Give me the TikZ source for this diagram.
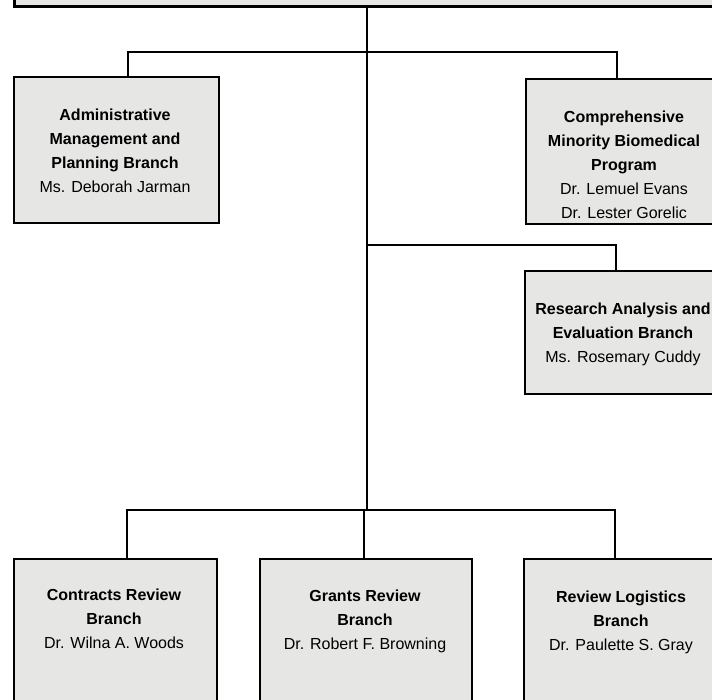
\documentclass[tikz,border=0pt]{standalone}
\usepackage{fontspec}
\setmainfont{Liberation Sans}
\definecolor{boxfill}{RGB}{230,230,228}
\begin{document}
\begin{tikzpicture}[x=1pt,y=-1pt,
  box/.style={draw=black,line width=1.8pt,fill=boxfill,inner sep=0pt},
  txt/.style={align=center,font=\fontsize{16}{24}\selectfont,inner sep=0pt},
  conn/.style={draw=black,line width=1.6pt}]
\useasboundingbox (0,0) rectangle (712,700);
\clip (0,0) rectangle (712,700);
\fill[white] (0,0) rectangle (712,700);
% boxes (pixel coordinates, y downward)
\node[box,anchor=north west,minimum width=720pt,minimum height=40pt,line width=2.6pt] (top) at (13,-35) {};
\node[box,anchor=north west,minimum width=205pt,minimum height=146pt] (admin) at (13,76) {};
\node[box,anchor=north west,minimum width=200pt,minimum height=145pt] (comp) at (525,78) {};
\node[box,anchor=north west,minimum width=200pt,minimum height=123pt] (res) at (524,270) {};
\node[box,anchor=north west,minimum width=203pt,minimum height=160pt] (contr) at (13,558) {};
\node[box,anchor=north west,minimum width=212pt,minimum height=160pt] (grants) at (259,558) {};
\node[box,anchor=north west,minimum width=200pt,minimum height=160pt] (logi) at (523,558) {};
% texts
\node[txt] (admint) at (115,151) {\textbf{Administrative}\\\textbf{Management and}\\\textbf{Planning Branch}\\Ms. Deborah Jarman};
\node[txt] (compt) at (624,165) {\textbf{Comprehensive}\\\textbf{Minority Biomedical}\\\textbf{Program}\\Dr. Lemuel Evans\\Dr. Lester Gorelic};
\node[txt] (rest) at (623,334) {\textbf{Research Analysis and}\\\textbf{Evaluation Branch}\\Ms. Rosemary Cuddy};
\node[txt] (contrt) at (114,619) {\textbf{Contracts Review}\\\textbf{Branch}\\Dr. Wilna A. Woods};
\node[txt] (grantst) at (365,621) {\textbf{Grants Review}\\\textbf{Branch}\\Dr. Robert F. Browning};
\node[txt] (logit) at (621,622) {\textbf{Review Logistics}\\\textbf{Branch}\\Dr. Paulette S. Gray};
% junctions
\coordinate (j1) at (367,52);
\coordinate (j2) at (367,245);
\coordinate (j3) at (367,510);
\coordinate (da) at (128,52);
\coordinate (dc) at (617,52);
\coordinate (dr) at (616,245);
\coordinate (db1) at (127,510);
\coordinate (db2) at (364,510);
\coordinate (db3) at (615,510);
% connectors
\draw[conn] (top.south -| j1) -- (j3);
\draw[conn] (da |- admin.north) -- (da) -- (dc) -- (dc |- comp.north);
\draw[conn] (j2) -- (dr) -- (dr |- res.north);
\draw[conn] (db1 |- contr.north) -- (db1) -- (db3) -- (db3 |- logi.north);
\draw[conn] (db2) -- (db2 |- grants.north);
\end{tikzpicture}
\end{document}
